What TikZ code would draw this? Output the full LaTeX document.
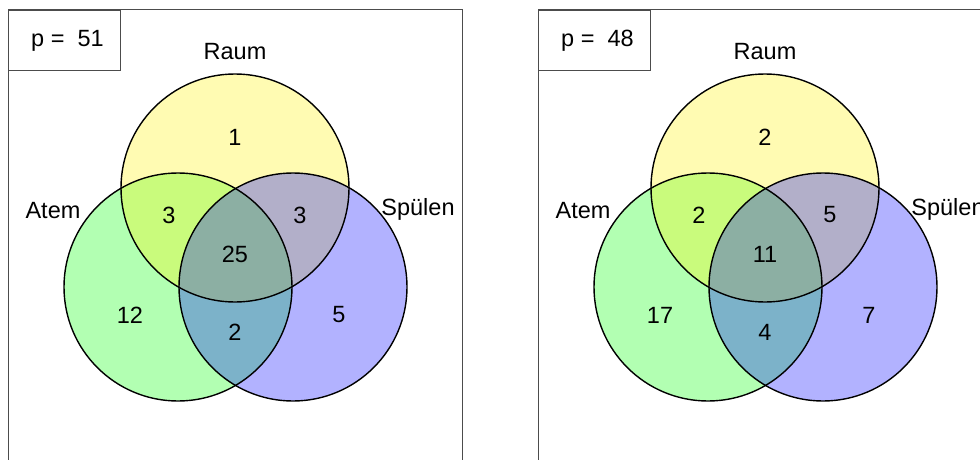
\documentclass[tikz,border=0pt]{standalone}
\usepackage{fontspec}
\setmainfont{Liberation Sans}
\begin{document}
\begin{tikzpicture}[x=1pt,y=-1pt,
  setfill/.style={circle,minimum size=228pt,inner sep=0pt,fill opacity=0.3},
  setline/.style={circle,minimum size=228pt,inner sep=0pt,draw=black,line width=1.4pt},
  lbl/.style={font=\fontsize{23.5}{27}\selectfont,inner sep=0pt},
  frame/.style={draw=black!70,line width=1pt},
  pbox/.style={draw=black!70,line width=1pt,fill=white}]
\useasboundingbox (0,0) rectangle (980,460);
\clip (0,0) rectangle (980,460);
\foreach \ox/\pv/\na/\nb/\nc/\nd/\ne/\nf/\ng/\pf in
  {0/51/1/3/3/25/12/2/5/L, 530/48/2/2/5/11/17/4/7/R}{
  \begin{scope}[shift={(\ox,0)}]
    \draw[frame] (8,470) -- (8,10) -- (462,10) -- (462,470);
    \node[pbox,minimum width=112pt,minimum height=60pt,anchor=north west] (box\pf) at (8,10) {};
    \node[lbl,anchor=west] (p\pf) at (31,41) {p =\ \ \pv};
    \node[setfill,fill=green] (atemf\pf) at (178,287) {};
    \node[setfill,fill=yellow] (raumf\pf) at (235,188) {};
    \node[setfill,fill=blue] (spuef\pf) at (293,287) {};
    \node[setline] (raum\pf) at (235,188) {};
    \node[setline] (atem\pf) at (178,287) {};
    \node[setline] (spue\pf) at (293,287) {};
    \node[lbl] (lr\pf) at (235,52) {Raum};
    \node[lbl] (la\pf) at (53,211) {Atem};
    \node[lbl] (ls\pf) at (418,209) {Spülen};
    \node[lbl] (n1\pf) at (235,137) {\na};
    \node[lbl] (n2\pf) at (169,215) {\nb};
    \node[lbl] (n3\pf) at (300,215) {\nc};
    \node[lbl] (n4\pf) at (235,254) {\nd};
    \node[lbl] (n5\pf) at (130,315) {\ne};
    \node[lbl] (n6\pf) at (235,332) {\nf};
    \node[lbl] (n7\pf) at (339,315) {\ng};
  \end{scope}}
\end{tikzpicture}
\end{document}
